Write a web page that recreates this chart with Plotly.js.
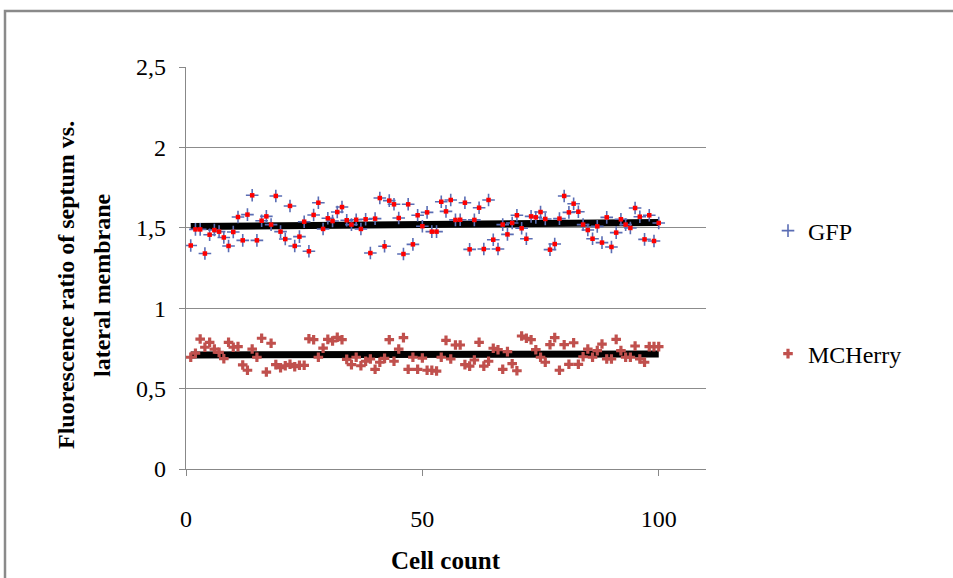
<!DOCTYPE html>
<html>
<head>
<meta charset="utf-8">
<script src="https://cdn.plot.ly/plotly-3.0.1.min.js"></script>
<style>html,body{margin:0;padding:0;background:#fff;}#chart{width:953px;height:578px;}</style>
</head>
<body>
<div id="chart"></div>
<script>
// Cell index (x) for both series
const cellCount = Array.from({length: 100}, (_, i) => i + 1);

// GFP fluorescence ratio
const gfpValues = [
  1.39, 1.49, 1.49, 1.34, 1.457, 1.486, 1.476, 1.44, 1.387, 1.474,
  1.567, 1.422, 1.582, 1.702, 1.422, 1.544, 1.571, 1.52, 1.698, 1.476,
  1.43, 1.636, 1.387, 1.445, 1.538, 1.354, 1.58, 1.656, 1.493, 1.559,
  1.542, 1.598, 1.629, 1.547, 1.52, 1.55, 1.493, 1.553, 1.343, 1.557,
  1.685, 1.385, 1.669, 1.646, 1.561, 1.337, 1.646, 1.397, 1.578, 1.51,
  1.596, 1.476, 1.476, 1.662, 1.602, 1.673, 1.549, 1.55, 1.656, 1.366,
  1.549, 1.625, 1.368, 1.673, 1.426, 1.368, 1.52, 1.459, 1.53, 1.578,
  1.497, 1.432, 1.571, 1.565, 1.598, 1.555, 1.364, 1.399, 1.557, 1.698,
  1.596, 1.65, 1.6, 1.52, 1.486, 1.432, 1.509, 1.408, 1.565, 1.381,
  1.47, 1.553, 1.52, 1.499, 1.623, 1.569, 1.428, 1.578, 1.418, 1.53
];

// MCHerry fluorescence ratio
const mcherryValues = [
  0.695, 0.72, 0.808, 0.757, 0.788, 0.746, 0.725, 0.686, 0.788, 0.757,
  0.761, 0.647, 0.614, 0.746, 0.695, 0.813, 0.603, 0.782, 0.649, 0.630,
  0.642, 0.651, 0.636, 0.645, 0.645, 0.810, 0.804, 0.695, 0.752, 0.806,
  0.796, 0.819, 0.804, 0.682, 0.649, 0.695, 0.642, 0.670, 0.684, 0.620,
  0.664, 0.688, 0.804, 0.670, 0.746, 0.817, 0.620, 0.695, 0.620, 0.690,
  0.614, 0.614, 0.609, 0.695, 0.800, 0.684, 0.771, 0.771, 0.649, 0.640,
  0.678, 0.788, 0.640, 0.670, 0.751, 0.742, 0.620, 0.730, 0.655, 0.611,
  0.827, 0.813, 0.804, 0.742, 0.695, 0.664, 0.773, 0.817, 0.614, 0.773,
  0.651, 0.785, 0.651, 0.698, 0.746, 0.695, 0.736, 0.777, 0.684, 0.684,
  0.806, 0.736, 0.695, 0.695, 0.765, 0.684, 0.664, 0.761, 0.761, 0.761
];

const seriesNames = ['GFP', 'MCHerry'];
const xTickVals = [0, 50, 100];
const yTickVals = [0, 0.5, 1, 1.5, 2, 2.5];

// Linear least-squares trend line
function trend(xs, ys) {
  const n = xs.length;
  const mx = xs.reduce((a, b) => a + b, 0) / n;
  const my = ys.reduce((a, b) => a + b, 0) / n;
  let sxy = 0, sxx = 0;
  for (let i = 0; i < n; i++) { sxy += (xs[i] - mx) * (ys[i] - my); sxx += (xs[i] - mx) ** 2; }
  const b = sxy / sxx, a = my - b * mx;
  const x0 = Math.min(...xs), x1 = Math.max(...xs);
  return {x: [x0, x1], y: [a + b * x0, a + b * x1]};
}
const gfpTrend = trend(cellCount, gfpValues);
const mchTrend = trend(cellCount, mcherryValues);

const FONT = 'Liberation Serif, Times New Roman, serif';

const traces = [
  {x: gfpTrend.x, y: gfpTrend.y, mode: 'lines', line: {color: '#000', width: 7}, showlegend: false, hoverinfo: 'skip'},
  {x: mchTrend.x, y: mchTrend.y, mode: 'lines', line: {color: '#000', width: 7}, showlegend: false, hoverinfo: 'skip'},
  {x: cellCount, y: gfpValues, mode: 'markers', name: seriesNames[0], legend: 'legend', legendgroup: 'gfp',
   marker: {symbol: 'cross-thin', size: 9, line: {color: '#5a6db4', width: 1.6}}},
  {x: cellCount, y: gfpValues, mode: 'markers', name: seriesNames[0], legendgroup: 'gfp', showlegend: false,
   marker: {symbol: 'square', size: 4.5, color: '#ff0000'}},
  {x: cellCount, y: mcherryValues, mode: 'markers', name: seriesNames[1], legend: 'legend2',
   marker: {symbol: 'cross', size: 8, color: '#c0504d', line: {width: 0}}}
];

// pixel -> paper helpers (plot area 186..706 x, 67..469 y)
const L = 186, R = 706, T = 67, B = 469;
const px = v => (v - L) / (R - L);
const py = v => (B - v) / (B - T);

const layout = {
  width: 953, height: 578,
  margin: {l: L, r: 953 - R, t: T, b: 578 - B, pad: 0},
  paper_bgcolor: '#fff', plot_bgcolor: '#fff',
  separators: ', ',
  font: {family: FONT, size: 24, color: '#000'},
  xaxis: {
    range: [0, 110], tickvals: xTickVals, ticks: 'outside', ticklen: 6, tickcolor: '#888',
    showgrid: false, zeroline: false, showline: true, linecolor: '#888', linewidth: 1.3,
    tickfont: {family: FONT, size: 24}, ticklabelstandoff: 22
  },
  yaxis: {
    range: [0, 2.5], tickvals: yTickVals, ticks: 'outside', ticklen: 6, tickcolor: '#888',
    showgrid: true, gridcolor: '#8c8c8c', gridwidth: 1, zeroline: false,
    showline: true, linecolor: '#888', linewidth: 1.3,
    tickfont: {family: FONT, size: 24}, ticklabelstandoff: 8
  },
  legend: {x: px(768), y: py(231), xanchor: 'left', yanchor: 'middle', bgcolor: 'rgba(0,0,0,0)',
           font: {family: FONT, size: 24}, itemwidth: 30},
  legend2: {x: px(768), y: py(354), xanchor: 'left', yanchor: 'middle', bgcolor: 'rgba(0,0,0,0)',
            font: {family: FONT, size: 24}, itemwidth: 30},
  annotations: [
    {text: '<b>Fluorescence ratio of septum vs.</b>', xref: 'paper', yref: 'paper', x: px(66), y: py(285),
     textangle: -90, showarrow: false, xanchor: 'center', yanchor: 'middle', font: {family: FONT, size: 24}},
    {text: '<b>lateral membrane</b>', xref: 'paper', yref: 'paper', x: px(102), y: py(285),
     textangle: -90, showarrow: false, xanchor: 'center', yanchor: 'middle', font: {family: FONT, size: 24}},
    {text: '<b>Cell count</b>', xref: 'paper', yref: 'paper', x: px(446), y: py(560),
     showarrow: false, xanchor: 'center', yanchor: 'middle', font: {family: FONT, size: 25}}
  ],
  shapes: [
    {type: 'rect', xref: 'paper', yref: 'paper', x0: px(5), x1: px(1000), y0: py(11), y1: py(620),
     line: {color: '#8a8a8a', width: 2.5}, fillcolor: 'rgba(0,0,0,0)', layer: 'below'}
  ]
};

Plotly.newPlot('chart', traces, layout, {displayModeBar: false, staticPlot: true});
</script>
</body>
</html>
